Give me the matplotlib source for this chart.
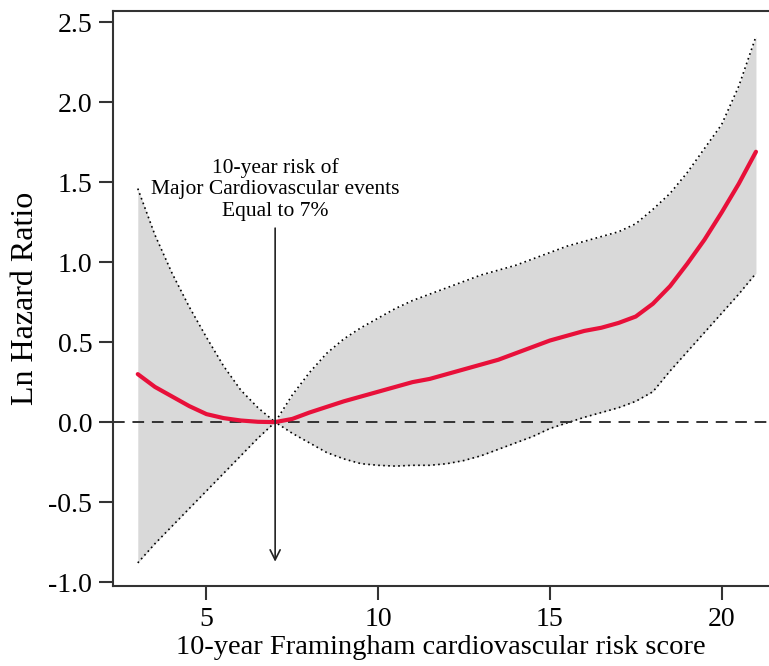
import matplotlib.pyplot as plt

plt.rcParams['font.family'] = ['Liberation Serif', 'DejaVu Serif']

# risk score and ln hazard ratio (with 95% CI)
risk = [3, 3.5, 4, 4.5, 5, 5.5, 6, 6.5, 7, 7.5, 8, 8.5, 9, 9.5, 10, 10.5,
        11, 11.5, 12, 12.5, 13, 13.5, 14, 14.5, 15, 15.5, 16, 16.5, 17,
        17.5, 18, 18.5, 19, 19.5, 20, 20.5, 21]
hr = [0.30, 0.22, 0.16, 0.10, 0.05, 0.025, 0.01, 0.002, 0.0, 0.02, 0.06,
      0.095, 0.13, 0.16, 0.19, 0.22, 0.25, 0.27, 0.30, 0.33, 0.36, 0.39,
      0.43, 0.47, 0.51, 0.54, 0.57, 0.59, 0.62, 0.66, 0.74, 0.85, 0.99,
      1.14, 1.31, 1.49, 1.69]
upper = [1.46, 1.17, 0.93, 0.72, 0.53, 0.35, 0.20, 0.09, 0.0, 0.17, 0.31,
         0.43, 0.52, 0.59, 0.65, 0.71, 0.76, 0.80, 0.84, 0.88, 0.92, 0.95,
         0.98, 1.02, 1.06, 1.10, 1.13, 1.16, 1.19, 1.24, 1.33, 1.43, 1.56,
         1.71, 1.86, 2.10, 2.41]
lower = [-0.88, -0.76, -0.65, -0.54, -0.43, -0.32, -0.21, -0.10, 0.0,
         -0.07, -0.13, -0.19, -0.23, -0.26, -0.27, -0.275, -0.27, -0.27,
         -0.26, -0.24, -0.21, -0.17, -0.13, -0.09, -0.04, -0.005, 0.03,
         0.06, 0.09, 0.13, 0.19, 0.32, 0.44, 0.56, 0.68, 0.80, 0.93]
ref_x = 7
note = "10-year risk of\nMajor Cardiovascular events\nEqual to 7%"


def main():
    fig = plt.figure(figsize=(7.69, 6.66), dpi=100)
    ax = fig.add_axes([0.147, 0.120, 0.853, 0.8635])

    ax.fill_between(risk, lower, upper, color='#d9d9d9', lw=0, zorder=1)
    ax.plot(risk, upper, color='black', ls=(0, (1, 2)), lw=1.2, zorder=2)
    ax.plot(risk, lower, color='black', ls=(0, (1, 2)), lw=1.2, zorder=2)
    ax.axhline(0, color='#333333', ls=(0, (6, 4)), lw=1.4, zorder=3)
    ax.plot(risk, hr, color='#e8103a', lw=3, zorder=4, solid_capstyle='round')

    ax.annotate("", xy=(ref_x, -0.89), xytext=(ref_x, 1.23),
                arrowprops=dict(arrowstyle='->', color='#222222', lw=1.2,
                                mutation_scale=18), zorder=5)
    ax.text(ref_x, 1.26, note, ha='center', va='bottom', fontsize=15.5,
            linespacing=1.15, zorder=5)

    ax.set_xlim(2.28, 21.38)
    ax.set_ylim(-1.025, 2.57)
    ax.set_xticks([5, 10, 15, 20])
    ax.set_yticks([-1.0, -0.5, 0.0, 0.5, 1.0, 1.5, 2.0, 2.5])
    ax.set_yticklabels(["-1.0", "-0.5", "0.0", "0.5", "1.0", "1.5", "2.0", "2.5"])
    ax.tick_params(direction='out', length=10, width=1.5, labelsize=20,
                   color='#333333', pad=5)
    ax.spines['right'].set_visible(False)
    for s in ['left', 'bottom', 'top']:
        ax.spines[s].set_linewidth(1.5)
        ax.spines[s].set_color('#333333')

    ax.set_xlabel("10-year Framingham cardiovascular risk score", fontsize=20.5,
                  labelpad=2)
    ax.set_ylabel("Ln Hazard Ratio", fontsize=23, labelpad=6)

    fig.savefig("out.png", dpi=100)


if __name__ == "__main__":
    main()
